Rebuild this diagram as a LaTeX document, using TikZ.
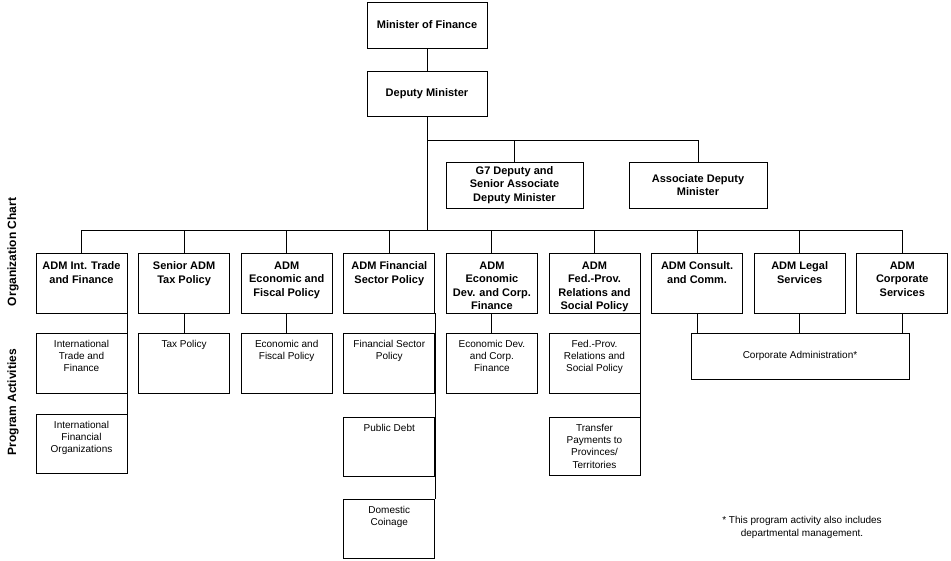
\documentclass[tikz,border=0pt]{standalone}
\usepackage{fontspec}
\setmainfont{Liberation Sans}
\usetikzlibrary{calc}
\newcommand{\toptext}[2]{\parbox[t][#1][t]{90pt}{\centering #2}}

\begin{document}
\begin{tikzpicture}[x=1pt,y=-1pt,line width=.9pt,
  box/.style={draw, inner sep=0pt, minimum width=91pt, minimum height=60pt, align=center},
  hd/.style={box, font=\bfseries\fontsize{11}{13.3}\selectfont},
  act/.style={box, font=\fontsize{10}{12.3}\selectfont}]
\useasboundingbox (0,0) rectangle (951,561);
\coordinate (br) at (0,140); \coordinate (bus) at (0,230);

% top of the chart
\node[hd, minimum width=120pt, minimum height=46pt] (mof) at (427,25) {Minister of Finance};
\node[hd, minimum width=120pt, minimum height=45pt] (dm) at (427,93.5) {Deputy Minister};
\node[hd, minimum width=137pt, minimum height=46pt] (g7) at (514.5,185) {G7 Deputy and\\Senior Associate\\Deputy Minister};
\node[hd, minimum width=138pt, minimum height=46pt] (adm) at (698,185) {Associate Deputy\\Minister};
\draw (mof) -- (dm); \draw (dm.south) -- (dm.south |- bus);
\draw (dm.south |- br) -| (adm.north); \draw (g7.north) -- (g7.north |- br);

% assistant deputy ministers
\node[hd] (b1) at (81.5,283) {\toptext{42pt}{ADM Int. Trade\\and Finance}};
\node[hd] (b2) at (184.1,283) {\toptext{42pt}{Senior ADM\\Tax Policy}};
\node[hd] (b3) at (286.7,283) {\toptext{42pt}{ADM\\Economic and\\Fiscal Policy}};
\node[hd] (b4) at (389.3,283) {\toptext{42pt}{ADM Financial\\Sector Policy}};
\node[hd] (b5) at (491.9,283) {\toptext{42pt}{ADM\\Economic\\Dev. and Corp.\\Finance}};
\node[hd] (b6) at (594.5,283) {\toptext{42pt}{ADM\\Fed.-Prov.\\Relations and\\Social Policy}};
\node[hd] (b7) at (697.1,283) {\toptext{42pt}{ADM Consult.\\and Comm.}};
\node[hd] (b8) at (799.7,283) {\toptext{42pt}{ADM Legal\\Services}};
\node[hd] (b9) at (902.3,283) {\toptext{42pt}{ADM\\Corporate\\Services}};
\draw (b1.north |- bus) -- (b9.north |- bus);
\foreach \b in {b1,b2,b3,b4,b5,b6,b7,b8,b9} \draw (\b.north) -- (\b.north |- bus);

% program activities
\node[act] (a1) at (81.5,363) {\toptext{46pt}{International\\Trade and\\Finance}};
\node[act, minimum height=59pt] (a2) at (81.5,443.5) {\toptext{45pt}{International\\Financial\\Organizations}};
\node[act] (tax) at (184.1,363) {\toptext{46pt}{Tax Policy}};
\node[act] (ef) at (286.7,363) {\toptext{46pt}{Economic and\\Fiscal Policy}};
\node[act] (fsp) at (389.3,363) {\toptext{46pt}{Financial Sector\\Policy}};
\node[act, minimum height=59pt] (pd) at (389.3,446.5) {\toptext{45pt}{Public Debt}};
\node[act, minimum height=59pt] (dc) at (389.3,528.5) {\toptext{45pt}{Domestic\\Coinage}};
\node[act] (edc) at (491.9,363) {\toptext{46pt}{Economic Dev.\\and Corp.\\Finance}};
\node[act] (fp) at (594.5,363) {\toptext{46pt}{Fed.-Prov.\\Relations and\\Social Policy}};
\node[act, minimum height=58pt] (tp) at (594.5,446) {\toptext{44pt}{Transfer\\Payments to\\Provinces/\\Territories}};
\node[act, minimum width=218pt, minimum height=46pt] (ca) at (800,356) {Corporate Administration*};
\draw (b1.south east) -- (a2.north east);
\draw (b2) -- (tax); \draw (b3) -- (ef);
\draw (b4.south east) -- (dc.north east);
\draw (b5) -- (edc);
\draw (b6.south east) -- (tp.north east);
\foreach \b in {b7,b8,b9} \draw (\b.south) -- (\b.south |- ca.north);

% notes and side labels
\node[font=\fontsize{10}{13}\selectfont, align=center] (note) at (802,527) {* This program activity also includes\\departmental management.};
\node[rotate=90, font=\bfseries\fontsize{12}{14}\selectfont] (oc) at (13,252) {Organization Chart};
\node[rotate=90, font=\bfseries\fontsize{12}{14}\selectfont] (pa) at (13,402) {Program Activities};
\end{tikzpicture}
\end{document}
